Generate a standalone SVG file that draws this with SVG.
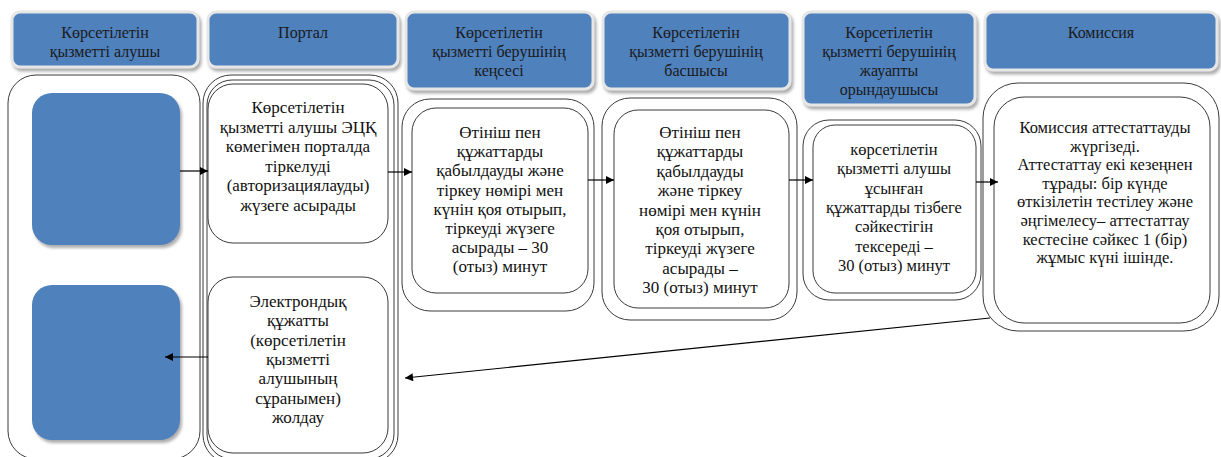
<svg xmlns="http://www.w3.org/2000/svg" width="1221" height="457" viewBox="0 0 1221 457">
<defs>
<filter id="sh" x="-10%" y="-10%" width="120%" height="130%">
<feGaussianBlur in="SourceAlpha" stdDeviation="1.5"/>
<feOffset dx="1.5" dy="2.5" result="b"/>
<feFlood flood-color="#8a8a8a" flood-opacity="0.7"/>
<feComposite in2="b" operator="in"/>
<feMerge><feMergeNode/><feMergeNode in="SourceGraphic"/></feMerge>
</filter>
<marker id="ah" viewBox="0 0 10 10" refX="10" refY="5" markerWidth="9" markerHeight="8" markerUnits="userSpaceOnUse" orient="auto">
<path d="M0,0 L10,5 L0,10 z" fill="#000"/>
</marker>
</defs>
<style>
.hd{fill:#4F81BD;stroke:#e6e6e6;stroke-width:3;filter:url(#sh)}
.ht{font-family:"Liberation Serif","Times New Roman",serif;font-size:16px;fill:#1a1a1a;text-anchor:middle}
.ln{fill:none;stroke:#3a3a3a;stroke-width:1}
.bx{fill:#fff;stroke:#3a3a3a;stroke-width:1}
.bl{fill:#4F81BD;filter:url(#sh)}
.nt{font-family:"Liberation Serif","Times New Roman",serif;font-size:17px;fill:#111;text-anchor:middle}
.st{font-family:"Liberation Serif","Times New Roman",serif;font-size:16.5px;fill:#111;text-anchor:middle}
.cn{fill:none;stroke:#000;stroke-width:1.2;marker-end:url(#ah)}
</style>
<rect width="1221" height="457" fill="#fff"/>

<g id="header-1"><rect class="hd" x="12" y="12" width="186" height="55" rx="8"/>
<text class="ht" x="105" y="38">Көрсетілетін</text><text class="ht" x="105" y="57">қызметті алушы</text></g>
<g id="header-2"><rect class="hd" x="208" y="12" width="190" height="55" rx="8"/>
<text class="ht" x="303" y="38">Портал</text></g>
<g id="header-3"><rect class="hd" x="406" y="12" width="187" height="77" rx="8"/>
<text class="ht" x="499" y="38">Көрсетілетін</text><text class="ht" x="499" y="57">қызметті берушінің</text><text class="ht" x="499" y="76">кеңсесі</text></g>
<g id="header-4"><rect class="hd" x="603" y="12" width="187" height="77" rx="8"/>
<text class="ht" x="696" y="38">Көрсетілетін</text><text class="ht" x="696" y="57">қызметті берушінің</text><text class="ht" x="696" y="76">басшысы</text></g>
<g id="header-5"><rect class="hd" x="803" y="12" width="172" height="93" rx="8"/>
<text class="ht" x="889" y="38">Көрсетілетін</text><text class="ht" x="889" y="57">қызметті берушінің</text><text class="ht" x="889" y="76">жауапты</text><text class="ht" x="889" y="95">орындаушысы</text></g>
<g id="header-6"><rect class="hd" x="985" y="12" width="232" height="58" rx="8"/>
<text class="ht" x="1101" y="38">Комиссия</text></g>

<g id="lane-1"><rect class="ln" x="8" y="75" width="192" height="384" rx="28"/></g>
<g id="lane-2"><rect class="ln" x="203" y="75" width="195" height="388" rx="28"/><rect class="ln" x="207" y="80" width="187" height="379" rx="25"/></g>

<g id="start-top"><rect class="bl" x="32" y="93" width="148" height="152" rx="20"/></g>
<g id="end-bottom"><rect class="bl" x="32" y="285" width="148" height="155" rx="20"/></g>

<g id="portal-login"><rect class="bx" x="208" y="84" width="180" height="159" rx="25"/>
<text class="nt" x="298" y="113">Көрсетілетін</text>
<text class="nt" x="298" y="132.5">қызметті алушы ЭЦҚ</text>
<text class="nt" x="298" y="152">көмегімен порталда</text>
<text class="nt" x="298" y="171.5">тіркелуді</text>
<text class="nt" x="298" y="191">(авторизациялауды)</text>
<text class="nt" x="298" y="210.5">жүзеге асырады</text></g>

<g id="portal-send"><rect class="bx" x="208" y="277" width="180" height="176" rx="25"/>
<text class="nt" x="298" y="307">Электрондық</text>
<text class="nt" x="298" y="326.3">құжатты</text>
<text class="nt" x="298" y="345.6">(көрсетілетін</text>
<text class="nt" x="298" y="364.9">қызметті</text>
<text class="nt" x="298" y="384.2">алушының</text>
<text class="nt" x="298" y="403.5">сұранымен)</text>
<text class="nt" x="298" y="422.8">жолдау</text></g>

<g id="office"><rect class="bx" x="402" y="99" width="192" height="212" rx="28"/><rect class="bx" x="412" y="108" width="176" height="185" rx="24"/>
<text class="nt" x="500" y="138">Өтініш пен</text>
<text class="nt" x="500" y="157.2">құжаттарды</text>
<text class="nt" x="500" y="176.4">қабылдауды және</text>
<text class="nt" x="500" y="195.6">тіркеу нөмірі мен</text>
<text class="nt" x="500" y="214.8">күнін қоя отырып,</text>
<text class="nt" x="500" y="234">тіркеуді жүзеге</text>
<text class="nt" x="500" y="253.2">асырады – 30</text>
<text class="nt" x="500" y="272.4">(отыз) минут</text></g>

<g id="head"><rect class="bx" x="602" y="98" width="195" height="222" rx="28"/><rect class="bx" x="614" y="110" width="175" height="198" rx="24"/>
<text class="nt" x="700" y="138">Өтініш пен</text>
<text class="nt" x="700" y="157.4">құжаттарды</text>
<text class="nt" x="700" y="176.8">қабылдауды</text>
<text class="nt" x="700" y="196.2">және тіркеу</text>
<text class="nt" x="700" y="215.6">нөмірі мен күнін</text>
<text class="nt" x="700" y="235">қоя отырып,</text>
<text class="nt" x="700" y="254.4">тіркеуді жүзеге</text>
<text class="nt" x="700" y="273.8">асырады –</text>
<text class="nt" x="700" y="293.2">30 (отыз) минут</text></g>

<g id="executor"><rect class="bx" x="803" y="120" width="178" height="180" rx="26"/><rect class="bx" x="813" y="125" width="163" height="168" rx="22"/>
<text class="st" x="894" y="155">көрсетілетін</text>
<text class="st" x="894" y="174.3">қызметті алушы</text>
<text class="st" x="894" y="193.6">ұсынған</text>
<text class="st" x="894" y="212.9">құжаттарды тізбеге</text>
<text class="st" x="894" y="232.2">сәйкестігін</text>
<text class="st" x="894" y="251.5">тексереді –</text>
<text class="st" x="894" y="270.8">30 (отыз) минут</text></g>

<g id="commission"><rect class="bx" x="983" y="83" width="236" height="248" rx="35"/><rect class="bx" x="994" y="97" width="216" height="226" rx="30"/>
<text class="st" x="1105" y="133">Комиссия аттестаттауды</text>
<text class="st" x="1105" y="151.6">жүргізеді.</text>
<text class="st" x="1105" y="170.2">Аттестаттау екі кезеңнен</text>
<text class="st" x="1105" y="188.8">тұрады: бір күнде</text>
<text class="st" x="1105" y="207.4">өткізілетін тестілеу және</text>
<text class="st" x="1105" y="226">әңгімелесу– аттестаттау</text>
<text class="st" x="1105" y="244.6">кестесіне сәйкес 1 (бір)</text>
<text class="st" x="1105" y="263.2">жұмыс күні ішінде.</text></g>

<g id="connectors">
<line class="cn" x1="180" y1="171" x2="208" y2="171"/>
<line class="cn" x1="388" y1="172" x2="412" y2="172"/>
<line class="cn" x1="588" y1="180" x2="614" y2="180"/>
<line class="cn" x1="789" y1="180" x2="813" y2="180"/>
<line class="cn" x1="976" y1="182" x2="998" y2="182"/>
<line class="cn" x1="990" y1="318" x2="405" y2="378"/>
<line class="cn" x1="208" y1="357" x2="165" y2="357"/>
</g>
</svg>
